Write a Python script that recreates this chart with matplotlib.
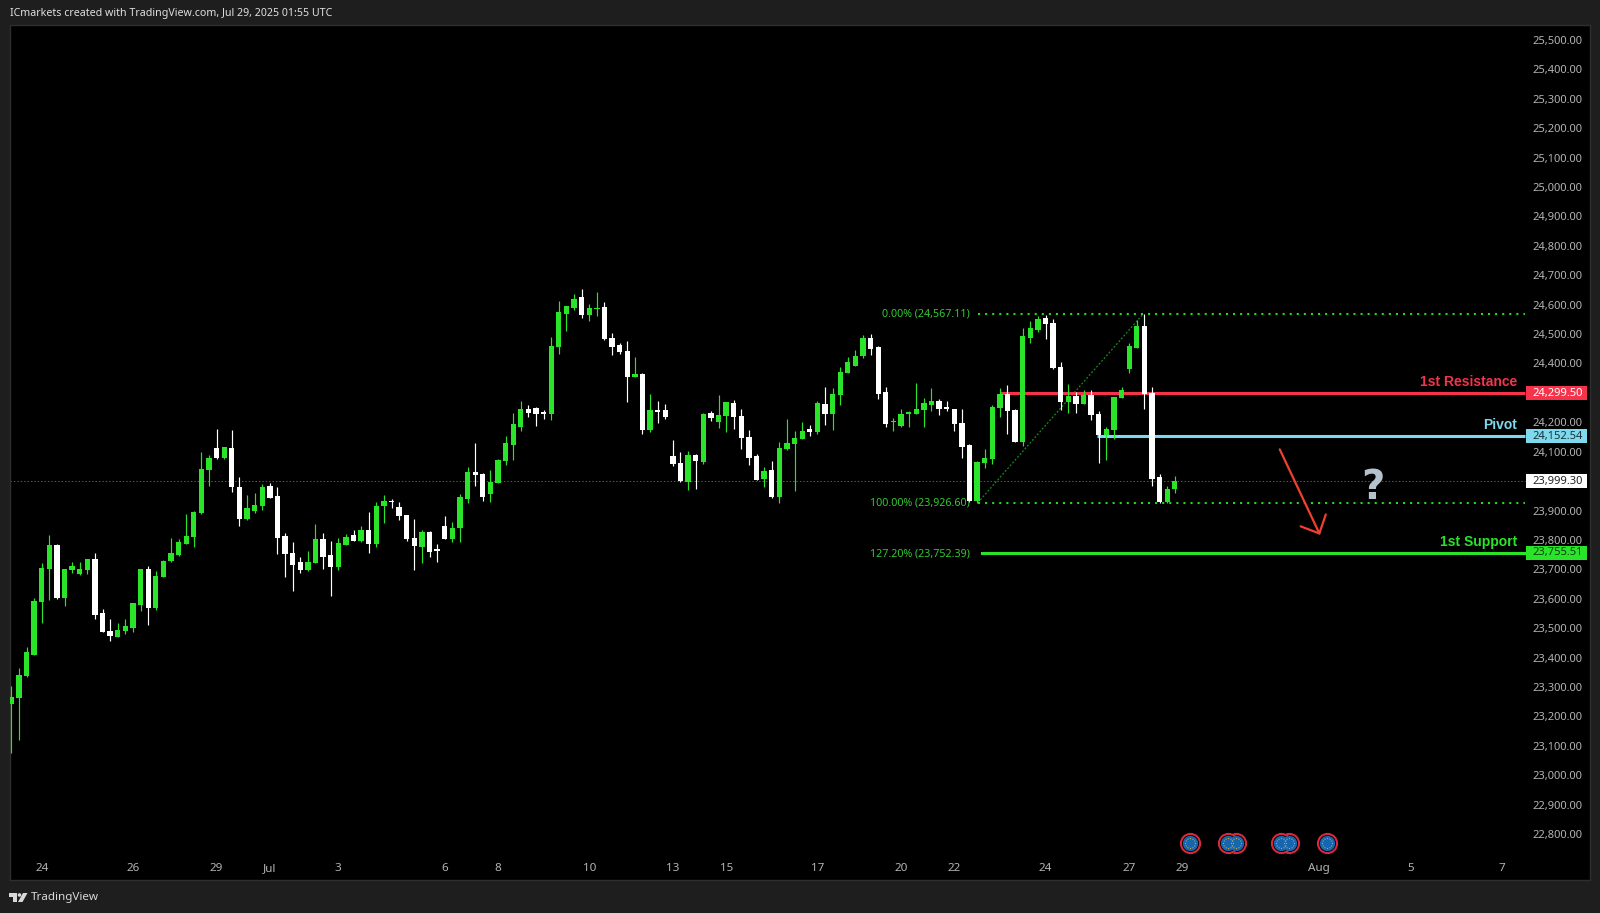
import matplotlib
matplotlib.use('Agg')
import matplotlib.pyplot as plt
import numpy as np
from matplotlib.patches import Polygon, Circle, Rectangle
from matplotlib.path import Path
from matplotlib.transforms import IdentityTransform

plt.rcParams['font.family'] = ['Noto Sans', 'DejaVu Sans']

# 4h candles
opens = [23241, 23264, 23338, 23409, 23590, 23701, 23783, 23604, 23698, 23684, 23698, 23735, 23552, 23490,
         23471, 23490, 23502, 23579, 23701, 23570, 23673, 23727, 23749, 23787, 23810, 23890, 24037, 24112,
         24080, 24112, 23981, 23871, 23899, 23915, 23983, 23948, 23814, 23755, 23724, 23698, 23723, 23802,
         23749, 23707, 23784, 23817, 23798, 23833, 23787, 23915, 23934, 23913, 23885, 23807, 23776, 23827,
         23768, 23848, 23803, 23841, 23939, 24031, 24024, 23956, 23994, 24068, 24123, 24185, 24245, 24249,
         24234, 24227, 24456, 24568, 24588, 24626, 24565, 24584, 24592, 24485, 24463, 24442, 24354, 24364,
         24174, 24241, 24241, 24084, 24062, 23997, 24088, 24065, 24230, 24201, 24221, 24264, 24221, 24150,
         24085, 24008, 24038, 23946, 24109, 24126, 24143, 24177, 24167, 24262, 24229, 24292, 24366, 24391,
         24425, 24486, 24455, 24303, 24200, 24187, 24227, 24228, 24242, 24259, 24272, 24251, 24245, 24196,
         24123, 23932, 24062, 24075, 24249, 24296, 24242, 24132, 24486, 24514, 24554, 24537, 24388, 24269,
         24289, 24262, 24293, 24228, 24157, 24174, 24283, 24381, 24453, 24527, 24300, 24014, 23928, 23973]
highs = [23304, 23366, 23437, 23601, 23720, 23817, 23786, 23701, 23724, 23724, 23735, 23755, 23564, 23531,
         23517, 23531, 23585, 23701, 23711, 23693, 23732, 23805, 23802, 23888, 23898, 24100, 24089, 24177,
         24115, 24174, 24013, 23953, 23960, 23990, 23995, 23979, 23823, 23792, 23741, 23763, 23854, 23823,
         23795, 23807, 23819, 23833, 23848, 23895, 23928, 23952, 23939, 23928, 23885, 23870, 23835, 23830,
         23786, 23880, 23861, 23956, 24048, 24128, 24027, 24038, 24075, 24153, 24230, 24272, 24259, 24252,
         24243, 24489, 24612, 24595, 24636, 24653, 24602, 24642, 24609, 24504, 24470, 24476, 24421, 24368,
         24296, 24272, 24262, 24140, 24099, 24102, 24091, 24232, 24237, 24293, 24268, 24275, 24245, 24174,
         24092, 24048, 24068, 24134, 24211, 24169, 24201, 24191, 24272, 24319, 24315, 24387, 24421, 24446,
         24496, 24499, 24459, 24319, 24215, 24245, 24237, 24334, 24283, 24315, 24279, 24272, 24245, 24245,
         24126, 24068, 24109, 24259, 24318, 24327, 24245, 24520, 24544, 24561, 24565, 24551, 24405, 24330,
         24303, 24310, 24310, 24238, 24184, 24286, 24319, 24470, 24548, 24568, 24319, 24024, 23984, 24016]
lows = [23075, 23120, 23335, 23409, 23519, 23596, 23598, 23577, 23689, 23682, 23684, 23532, 23486, 23458,
        23471, 23480, 23486, 23560, 23511, 23562, 23673, 23725, 23747, 23787, 23777, 23888, 23983, 24076,
        24074, 23964, 23847, 23868, 23890, 23902, 23944, 23752, 23675, 23628, 23686, 23695, 23723, 23702,
        23611, 23699, 23782, 23798, 23793, 23756, 23776, 23857, 23909, 23868, 23798, 23699, 23723, 23741,
        23725, 23803, 23793, 23793, 23925, 23983, 23934, 23930, 23994, 24055, 24071, 24170, 24219, 24189,
        24211, 24208, 24432, 24509, 24583, 24555, 24545, 24561, 24480, 24429, 24432, 24269, 24354, 24160,
        24167, 24198, 24211, 24051, 23996, 23970, 23974, 24058, 24204, 24181, 24167, 24177, 24109, 24055,
        24005, 23980, 23943, 23926, 24106, 23965, 24143, 24155, 24160, 24192, 24174, 24259, 24366, 24391,
        24418, 24429, 24279, 24184, 24170, 24184, 24183, 24228, 24184, 24238, 24225, 24238, 24170, 24080,
        23930, 23925, 24046, 24058, 24219, 24160, 24132, 24119, 24470, 24507, 24483, 24380, 24242, 24232,
        24232, 24262, 24208, 24062, 24072, 24143, 24283, 24366, 24453, 24245, 23983, 23925, 23925, 23958]
closes = [23266, 23341, 23419, 23592, 23705, 23783, 23604, 23701, 23711, 23701, 23735, 23546, 23486, 23473,
          23494, 23506, 23585, 23701, 23570, 23677, 23730, 23755, 23792, 23813, 23895, 24041, 24077, 24080,
          24115, 23981, 23872, 23907, 23919, 23979, 23944, 23807, 23753, 23716, 23698, 23726, 23802, 23743,
          23707, 23789, 23810, 23798, 23833, 23787, 23915, 23932, 23928, 23881, 23803, 23778, 23827, 23759,
          23764, 23803, 23841, 23947, 24031, 24022, 23946, 23997, 24072, 24128, 24193, 24245, 24233, 24229,
          24227, 24460, 24575, 24595, 24619, 24565, 24588, 24588, 24482, 24456, 24440, 24354, 24364, 24174,
          24241, 24235, 24219, 24058, 23999, 24088, 24068, 24228, 24215, 24224, 24268, 24218, 24145, 24080,
          24005, 24034, 23946, 24113, 24130, 24147, 24170, 24167, 24264, 24228, 24296, 24371, 24405, 24425,
          24486, 24449, 24297, 24194, 24204, 24228, 24235, 24245, 24266, 24272, 24245, 24245, 24193, 24117,
          23934, 24065, 24079, 24252, 24296, 24238, 24132, 24493, 24520, 24551, 24534, 24383, 24269, 24289,
          24262, 24293, 24225, 24157, 24177, 24286, 24310, 24458, 24527, 24295, 24008, 23928, 23973, 23999.3]

price_ticks = [22800, 22900, 23000, 23100, 23200, 23300, 23400, 23500, 23600, 23700, 23800, 23900, 24100,
               24200, 24400, 24500, 24600, 24700, 24800, 24900, 25000, 25100, 25200, 25300, 25400, 25500]
date_pos = [4, 16, 27, 34, 43, 57, 64, 76, 87, 94, 106, 117, 124, 136, 147, 154, 172, 184, 196]
date_labels = ['24', '26', '29', 'Jul', '3', '6', '8', '10', '13', '15', '17', '20', '22', '24', '27', '29',
               'Aug', '5', '7']

fib_0 = 24567.11
fib_100 = 23926.60
fib_127 = 23752.39
last_price = 23999.30
resistance = 24299.50
pivot = 24152.54
support = 23755.51

event_pos = [161, 160, 168, 167, 155, 173]  # back ones first

W, H = 1600, 913
BG = '#1e1e1e'
GREEN = '#2ae42a'
RED = '#f5344c'
BLUE = '#7fd9ec'
TICK = '#b4b4b4'
LABEL_FONT = ['Liberation Sans', 'DejaVu Sans']

fig = plt.figure(figsize=(W / 100, H / 100), dpi=100, facecolor=BG)
ax = fig.add_axes([10 / W, 1 - 880 / H, 1580 / W, 855 / H], facecolor='black')
ax.set_xlim(-0.171, 207.6)
ax.set_ylim(22643.7, 25550.7)
for s in ax.spines.values():
    s.set_color('#2e2e2e')
    s.set_linewidth(1)

ax.yaxis.tick_right()
ax.set_yticks(price_ticks)
ax.set_yticklabels([f'{v:,.2f}' for v in price_ticks], ha='right', color=TICK, fontsize=8.0)
ax.tick_params(axis='y', length=0, pad=-5.6)
ax.set_xticks(date_pos)
ax.set_xticklabels(date_labels, color=TICK, fontsize=8.4)
ax.tick_params(axis='x', length=0, pad=-12.4)

END = 199
# dotted last price line
ax.plot([-0.171, END], [last_price, last_price], color='#5a5a5a', lw=0.7, ls=(0, (1.5, 2)), zorder=1)
# fib levels
ax.plot([127.1, 148.8], [fib_100, fib_0], color='#1c8a1c', lw=0.9, ls=(0, (1.5, 1.5)), zorder=1)
for lev in [fib_0, fib_100]:
    ax.plot([127.1, END], [lev, lev], color='#22d822', lw=1.5, ls=(0, (1, 2.4)), zorder=1)
# levels
ax.plot([130, END], [resistance, resistance], color=RED, lw=2.2, zorder=2, solid_capstyle='butt')
ax.plot([142.8, END], [pivot, pivot], color=BLUE, lw=2.2, zorder=2, solid_capstyle='butt')
ax.plot([127.6, END], [support, support], color=GREEN, lw=2.2, zorder=2)

# candles
x = np.arange(len(opens))
o = np.array(opens, dtype=float)
c = np.array(closes, dtype=float)
colors = [GREEN if c[i] >= o[i] else 'white' for i in x]
ax.vlines(x, lows, highs, colors=colors, linewidth=0.85, zorder=3)
ax.bar(x, np.abs(c - o), bottom=np.minimum(o, c), width=0.7, color=colors, linewidth=0, zorder=4)

# fib text
fib_green = '#33c933'
for lev, txt in [(fib_0, '0.00% (24,567.11)'), (fib_100, '100.00% (23,926.60)'), (fib_127, '127.20% (23,752.39)')]:
    ax.text(126.0, lev, txt, color=fib_green, fontsize=7.7, ha='right', va='center')

# level names
for lev, txt, col in [(resistance, '1st Resistance', RED), (pivot, 'Pivot', BLUE), (support, '1st Support', GREEN)]:
    ax.annotate(txt, (198, lev), xytext=(0, 8), textcoords='offset points', color=col, fontsize=10, ha='right',
                va='center', fontweight='bold', family=LABEL_FONT)

# price tags
tags = [(resistance, RED, 'white'), (pivot, BLUE, '#17323a'), (last_price, 'white', '#222222'), (support, GREEN, '#0d3a0d')]
for val, fc, tc in tags:
    ax.add_patch(Rectangle((199.2, val - 24), 7.95, 48, facecolor=fc, edgecolor=fc, lw=0, zorder=5))
    ax.text(206.6, val, f'{val:,.2f}', color=tc, fontsize=8.0, ha='right', va='center', zorder=6)

# arrow and question mark
ax.annotate('', xy=(172.1, 23817), xytext=(166.8, 24108),
            arrowprops=dict(arrowstyle='->,head_length=1.04,head_width=1.0', color='#f0402f', lw=1.6,
                            mutation_scale=10, shrinkA=0, shrinkB=0), zorder=6)
ax.text(179.1, 23975, '?', color='#b4c2ce', fontsize=29, fontweight='bold', ha='center', va='center', zorder=6,
        family=['DejaVu Sans'])

# economic events, EU flags
ang = np.linspace(0, 2 * np.pi, 12, endpoint=False)
star_path = Path.make_compound_path(*[Path.circle((np.cos(a) * 5, np.sin(a) * 5), 0.6) for a in ang])
event_y = 22768.5
for pos in event_pos:
    ax.scatter([pos], [event_y], s=190, facecolor='black', edgecolor='#d8283c', linewidth=1.5, zorder=7)
    ax.scatter([pos], [event_y], s=122, facecolor='#1565b0', linewidth=0, zorder=8)
    ax.plot([pos], [event_y], marker=star_path, ms=8, mfc='#c9b24a', mec='none', ls='none', zorder=9)

# top text and bottom logo
fig.text(9.5 / W, 1 - 13.5 / H, 'ICmarkets created with TradingView.com, Jul 29, 2025 01:55 UTC', color='#e0e0e0',
         fontsize=7.65, ha='left', va='center')
fig.text(30.5 / W, 1 - 897 / H, 'TradingView', color='#d8d8d8', fontsize=8.4, ha='left', va='center')


def px(points):
    return [(a, H - b) for a, b in points]


logo = '#d8d8d8'
fig.add_artist(Polygon(px([(9, 893), (17, 893), (17, 902), (13, 902), (13, 896.5), (9, 896.5)]), closed=True,
                       facecolor=logo, edgecolor='none', transform=IdentityTransform()))
fig.add_artist(Circle((19.5, H - 895), 1.8, facecolor=logo, edgecolor='none', transform=IdentityTransform()))
fig.add_artist(Polygon(px([(23, 893), (27.5, 893), (22.5, 902), (18, 902)]), closed=True, facecolor=logo,
                       edgecolor='none', transform=IdentityTransform()))

fig.savefig('out.png', dpi=100, facecolor=BG)
